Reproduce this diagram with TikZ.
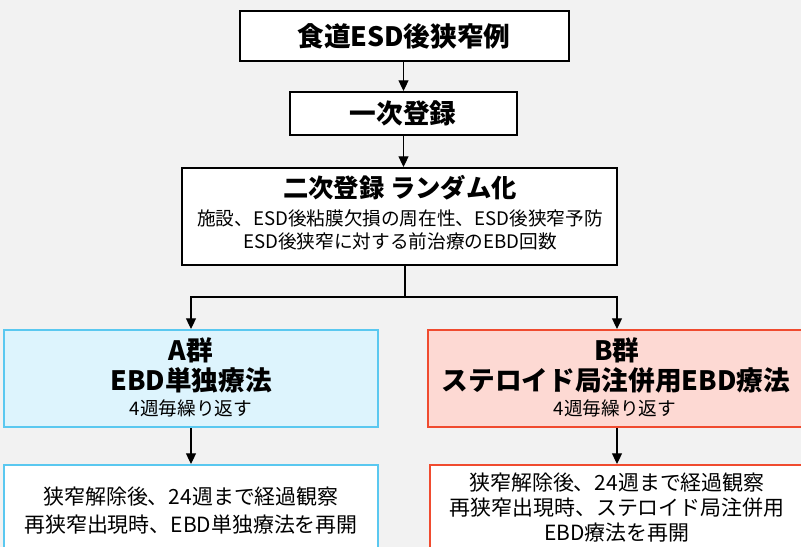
\documentclass[tikz,border=0pt]{standalone}
\usepackage{fontspec}
\setmainfont{Noto Sans CJK JP}
\usetikzlibrary{fit,arrows.meta}
\definecolor{bgc}{HTML}{F2F2F2}
\definecolor{afill}{HTML}{DDF4FD}
\definecolor{aline}{HTML}{5AC8F0}
\definecolor{bfill}{HTML}{FDD9D3}
\definecolor{bline}{HTML}{F04B2F}
\tikzset{
  plainbox/.style={draw=black, fill=white, line width=1.5pt, inner sep=0pt},
  abox/.style={draw=aline, fill=afill, line width=1.5pt, inner sep=0pt},
  bbox/.style={draw=bline, fill=bfill, line width=1.5pt, inner sep=0pt},
  awbox/.style={draw=aline, fill=white, line width=1.5pt, inner sep=0pt},
  bwbox/.style={draw=bline, fill=white, line width=1.5pt, inner sep=0pt},
  bigtxt/.style={inner sep=0pt, font=\fontsize{20}{24}\selectfont\bfseries},
  midtxt/.style={inner sep=0pt, font=\fontsize{19}{23}\selectfont\bfseries},
  smalltxt/.style={inner sep=0pt, font=\fontsize{14}{17}\selectfont},
  lowtxt/.style={inner sep=0pt, font=\fontsize{15.7}{19}\selectfont},
  conn/.style={draw=black, line width=0.8pt},
  arr/.style={conn, -{Triangle[width=7.5pt,length=8pt]}}
}
\begin{document}
\begin{tikzpicture}[x=0.75pt,y=-0.75pt]
\useasboundingbox (0,0) rectangle (801,547);
\clip (0,0) rectangle (801,547);
\fill[bgc] (0,0) rectangle (801,547);

\node[plainbox, fit={(240,11) (569,61)}] (top) {};
\node[plainbox, fit={(290,92) (517,135)}] (reg1) {};
\node[plainbox, fit={(182,168) (617,265)}] (reg2) {};
\node[abox, fit={(4,330) (378,427)}] (A) {};
\node[bbox, fit={(428,330) (806,427)}] (B) {};
\node[awbox, fit={(4,465) (378,556)}] (A2) {};
\node[bwbox, fit={(430,465) (806,556)}] (B2) {};

\node[bigtxt] (t1) at (404,36) {食道ESD後狭窄例};
\node[bigtxt] (t2) at (403,113) {一次登録};
\node[midtxt] (t3) at (400,188) {二次登録 ランダム化};
\node[smalltxt] (t4) at (400,218) {施設、ESD後粘膜欠損の周在性、ESD後狭窄予防};
\node[smalltxt] (t5) at (400,241) {ESD後狭窄に対する前治療のEBD回数};

\node[bigtxt] (a1) at (191,350) {A群};
\node[bigtxt] (a2) at (191,380) {EBD単独療法};
\node[smalltxt] (a3) at (191,408) {4週毎繰り返す};

\node[bigtxt] (b1) at (617,350) {B群};
\node[bigtxt] (b2) at (616,380) {ステロイド局注併用EBD療法};
\node[smalltxt] (b3) at (615,408) {4週毎繰り返す};

\node[lowtxt] (a4) at (191,497) {狭窄解除後、24週まで経過観察};
\node[lowtxt] (a5) at (191,525) {再狭窄出現時、EBD単独療法を再開};

\node[lowtxt] (b4) at (617,483) {狭窄解除後、24週まで経過観察};
\node[lowtxt] (b5) at (617,508) {再狭窄出現時、ステロイド局注併用};
\node[lowtxt] (b6) at (617,533) {EBD療法を再開};

\coordinate (split) at (405,297);
\draw[arr] (top.south -| reg1.south) -- (reg1.north);
\draw[arr] (reg1.south) -- (reg1.south |- reg2.north);
\draw[conn] (reg2.south -| split) -- (split);
\draw[arr] (split) -| (A.north);
\draw[arr] (split) -| (B.north);
\draw[arr] (A.south) -- (A2.north);
\draw[arr] (B.south) -- (B.south |- B2.north);
\end{tikzpicture}
\end{document}
